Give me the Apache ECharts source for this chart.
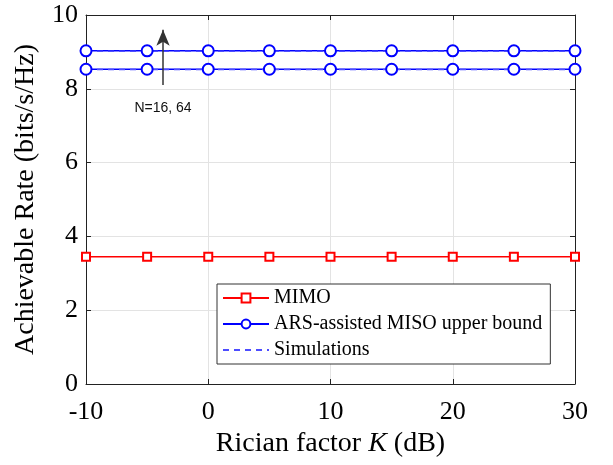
<!DOCTYPE html>
<html>
<head>
    <meta charset="utf-8" />
    <title></title>
    <script src="https://cdn.jsdelivr.net/npm/echarts@6/dist/echarts.min.js"></script>
</head>
<body style="margin:0">
    <div id="main" style="width:613px;height:465px"></div>
    <script type="text/javascript">
        // Rician factor K (dB)
        var kdB = [-10, -5, 0, 5, 10, 15, 20, 25, 30];
        var mimo = [3.45, 3.45, 3.45, 3.45, 3.45, 3.45, 3.45, 3.45, 3.45];
        var misoN16 = [8.53, 8.53, 8.53, 8.53, 8.53, 8.53, 8.53, 8.53, 8.53];
        var misoN64 = [9.03, 9.03, 9.03, 9.03, 9.03, 9.03, 9.03, 9.03, 9.03];
        var simN16 = [8.52, 8.52, 8.52, 8.52, 8.52, 8.52, 8.52, 8.52, 8.52];
        var simN64 = [9.02, 9.02, 9.02, 9.02, 9.02, 9.02, 9.02, 9.02, 9.02];
        var xTicks = [-10, 0, 10, 20, 30];
        var yTicks = [0, 2, 4, 6, 8, 10];

        function pairs(ys) {
            return kdB.map(function (k, i) { return [k, ys[i]]; });
        }

        var serif = 'Liberation Serif';
        var myChart = echarts.init(document.getElementById('main'));
        var option = {
            backgroundColor: 'white',
            animation: false,
            grid: { left: 86, right: 38, top: 15, bottom: 81 },
            legend: {
                orient: 'vertical',
                left: 217, top: 284,
                backgroundColor: '#fff',
                borderColor: '#333', borderWidth: 1,
                padding: [4, 8, 4, 5],
                itemWidth: 46, itemHeight: 11, itemGap: 6,
                textStyle: { fontFamily: serif, fontSize: 20, color: '#000' },
                data: ['MIMO', 'ARS-assisted MISO upper bound',
                    { name: 'Simulations', itemStyle: { color: 'rgba(0,0,0,0)', borderWidth: 0 } }]
            },
            xAxis: [{
                type: 'value', min: -10, max: 30, interval: 10,
                name: 'Rician factor {i|K} (dB)', nameLocation: 'middle', nameGap: 45,
                nameTextStyle: { fontFamily: serif, fontSize: 28, color: '#000',
                    rich: { i: { fontFamily: serif, fontStyle: 'italic', fontSize: 28 } } },
                axisLine: { onZero: false, lineStyle: { color: '#222', width: 1 } },
                axisTick: { inside: true, length: 5, lineStyle: { color: '#222' } },
                axisLabel: { fontFamily: serif, fontSize: 26, color: '#000', margin: 15,
                    formatter: function (v) { return xTicks.indexOf(v) >= 0 ? String(v) : ''; } },
                splitLine: { show: true, lineStyle: { color: '#e3e3e3' } }
            }, {
                type: 'value', min: -10, max: 30, interval: 10, position: 'top',
                axisLine: { onZero: false, lineStyle: { color: '#222' } },
                axisTick: { inside: true, length: 5, lineStyle: { color: '#222' } },
                axisLabel: { show: false }, splitLine: { show: false }
            }],
            yAxis: [{
                type: 'value', min: 0, max: 10, interval: 2,
                name: 'Achievable Rate (bits/s/Hz)', nameLocation: 'middle', nameGap: 46,
                nameTextStyle: { fontFamily: serif, fontSize: 28, color: '#000' },
                axisLine: { show: true, onZero: false, lineStyle: { color: '#222', width: 1 } },
                axisTick: { show: true, inside: true, length: 5, lineStyle: { color: '#222' } },
                axisLabel: { fontFamily: serif, fontSize: 26, color: '#000', margin: 8,
                    formatter: function (v) { return yTicks.indexOf(v) >= 0 ? String(v) : ''; } },
                splitLine: { show: true, lineStyle: { color: '#e3e3e3' } }
            }, {
                type: 'value', min: 0, max: 10, interval: 2, position: 'right',
                axisLine: { show: true, onZero: false, lineStyle: { color: '#222' } },
                axisTick: { show: true, inside: true, length: 5, lineStyle: { color: '#222' } },
                axisLabel: { show: false }, splitLine: { show: false }
            }],
            series: [{
                name: 'MIMO', type: 'line', data: pairs(mimo),
                symbol: 'emptyRect', symbolSize: 8,
                lineStyle: { color: '#ff0000', width: 1.5 },
                itemStyle: { color: '#ff0000', borderWidth: 1.5 }
            }, {
                name: 'ARS-assisted MISO upper bound', type: 'line', data: pairs(misoN16),
                symbol: 'emptyCircle', symbolSize: 11,
                lineStyle: { color: '#0000ff', width: 1.5 },
                itemStyle: { color: '#0000ff', borderWidth: 1.5 }
            }, {
                name: 'ARS-assisted MISO upper bound', type: 'line', data: pairs(misoN64),
                symbol: 'emptyCircle', symbolSize: 11,
                lineStyle: { color: '#0000ff', width: 1.5 },
                itemStyle: { color: '#0000ff', borderWidth: 1.5 },
                markLine: {
                    silent: true, symbol: ['none', 'arrow'], symbolSize: [10, 16],
                    lineStyle: { color: '#333', width: 1.5, type: 'solid' },
                    label: { show: true, position: 'start', distance: 16,
                        formatter: 'N=16, 64', fontFamily: 'Liberation Sans', fontSize: 14, color: '#111' },
                    data: [[{ coord: [-3.7, 8.1] }, { coord: [-3.7, 9.6] }]]
                }
            }, {
                name: 'Simulations', type: 'line', data: pairs(simN16),
                symbol: 'none',
                lineStyle: { color: '#4d4dff', width: 1.5, type: [6, 5] },
                itemStyle: { color: '#4d4dff' }
            }, {
                name: 'Simulations', type: 'line', data: pairs(simN64),
                symbol: 'none',
                lineStyle: { color: '#4d4dff', width: 1.5, type: [6, 5] },
                itemStyle: { color: '#4d4dff' }
            }]
        };
        myChart.setOption(option);
    </script>
</body>
</html>
